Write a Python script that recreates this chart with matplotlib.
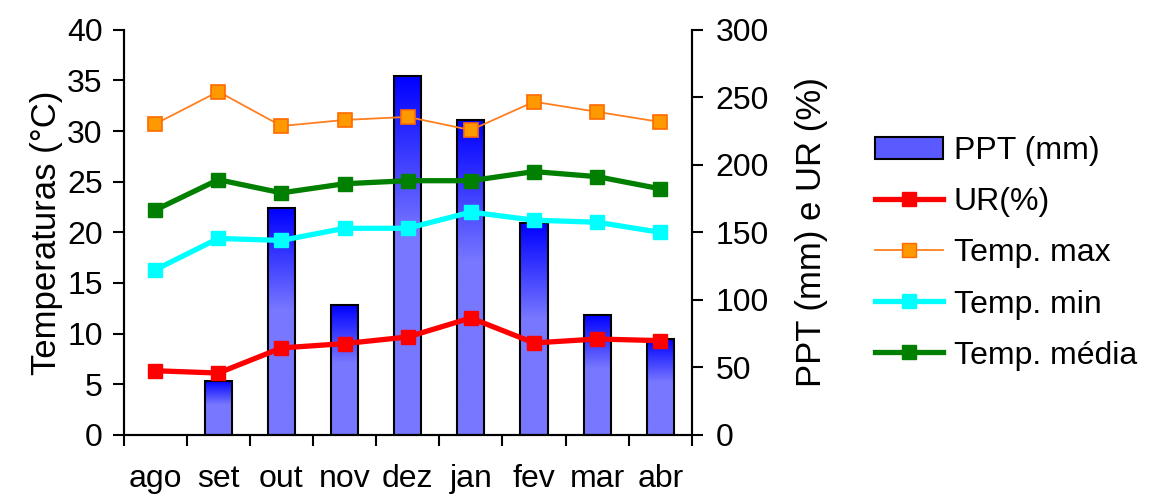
import numpy as np
import matplotlib
matplotlib.use("Agg")
import matplotlib.pyplot as plt
from matplotlib.patches import Patch
from matplotlib.lines import Line2D

plt.rcParams["font.family"] = ["Liberation Sans", "DejaVu Sans"]

months    = ["ago", "set", "out", "nov", "dez", "jan", "fev", "mar", "abr"]
ppt       = [0, 40, 168, 96.5, 266, 233, 157, 89, 71]          # mm, right axis
ur        = [47.5, 45.8, 64.4, 67.6, 72.5, 86.6, 68.1, 71.0, 69.8]  # %, right axis
temp_max  = [30.7, 33.9, 30.5, 31.1, 31.4, 30.1, 32.9, 31.9, 30.9]
temp_min  = [16.3, 19.4, 19.2, 20.4, 20.4, 22.0, 21.2, 21.0, 20.0]
temp_med  = [22.2, 25.2, 23.9, 24.8, 25.1, 25.1, 26.0, 25.5, 24.3]

FS = 23
YL_FS = 25
BAR_W = 0.43
DARK = np.array([0, 0, 255]) / 255
LIGHT = np.array([120, 120, 255]) / 255

fig = plt.figure(figsize=(11.55, 4.97), dpi=100)
ax1 = fig.add_axes([0.107, 0.125, 0.492, 0.815])
ax2 = ax1.twinx()

x = np.arange(len(months))

# gradient-filled bars (PPT) on the right axis
t = np.linspace(0, 1, 200)[:, None]
frac = np.clip(t / 0.45, 0, 1)
grad = DARK[None, :] + (LIGHT - DARK)[None, :] * frac
grad = grad[:, None, :]
for xi, h in zip(x, ppt):
    if h <= 0:
        continue
    ax2.imshow(grad, extent=[xi - BAR_W / 2, xi + BAR_W / 2, 0, h],
               aspect="auto", zorder=1, interpolation="bilinear")
    ax2.bar(xi, h, width=BAR_W, facecolor="none", edgecolor="black",
            linewidth=1.5, zorder=2)

ax2.plot(x, ur, color="#ff0000", lw=3.8, marker="s", ms=10,
         mfc="#ff0000", mec="#ff0000", zorder=3)

# temperature lines on the left axis, drawn above the bars
ax1.set_zorder(ax2.get_zorder() + 1)
ax1.patch.set_visible(False)
ax1.plot(x, temp_max, color="#ff7f1f", lw=1.3, marker="s", ms=10,
         mfc="#ff9900", mec="#ff6a00", mew=1.2)
ax1.plot(x, temp_min, color="#00ffff", lw=3.8, marker="s", ms=10,
         mfc="#00ffff", mec="#00ffff")
ax1.plot(x, temp_med, color="#007f00", lw=3.8, marker="s", ms=10,
         mfc="#007f00", mec="#007f00")

ax1.set_xlim(-0.5, len(months) - 0.5)
ax2.set_xlim(-0.5, len(months) - 0.5)
ax1.set_ylim(0, 40)
ax2.set_ylim(0, 300)
ax1.set_yticks(range(0, 41, 5))
ax2.set_yticks(range(0, 301, 50))

ax1.set_xticks(x)
ax1.set_xticklabels(months)
ax1.set_xticks(np.arange(-0.5, len(months)), minor=True)
ax1.tick_params(axis="x", which="major", length=0, pad=21, labelsize=FS)
ax1.tick_params(axis="x", which="minor", length=8, width=1.5, direction="out")
ax1.tick_params(axis="y", length=8, width=1.5, labelsize=FS, pad=7)
ax2.tick_params(axis="y", length=8, width=1.5, labelsize=FS, pad=9)

for ax in (ax1, ax2):
    ax.spines["top"].set_visible(False)
    for s in ("left", "right", "bottom"):
        ax.spines[s].set_linewidth(1.5)

ax1.set_ylabel("Temperaturas (°C)", fontsize=YL_FS, labelpad=3)
ax2.set_ylabel("PPT (mm) e UR (%)", fontsize=YL_FS, labelpad=19)

handles = [
    Patch(facecolor="#5a5aff", edgecolor="black", linewidth=1.5),
    Line2D([], [], color="#ff0000", lw=3.8, marker="s", ms=10, mfc="#ff0000", mec="#ff0000"),
    Line2D([], [], color="#ff7f1f", lw=1.3, marker="s", ms=10, mfc="#ff9900", mec="#ff6a00"),
    Line2D([], [], color="#00ffff", lw=3.8, marker="s", ms=10, mfc="#00ffff", mec="#00ffff"),
    Line2D([], [], color="#007f00", lw=3.8, marker="s", ms=10, mfc="#007f00", mec="#007f00"),
]
labels = ["PPT (mm)", "UR(%)", "Temp. max", "Temp. min", "Temp. média"]
fig.legend(handles, labels, loc="center left", bbox_to_anchor=(0.758, 0.49),
           frameon=False, fontsize=FS, handlelength=2.1, handletextpad=0.35,
           labelspacing=0.66, borderaxespad=0, borderpad=0)

fig.savefig("out.png", dpi=100)
